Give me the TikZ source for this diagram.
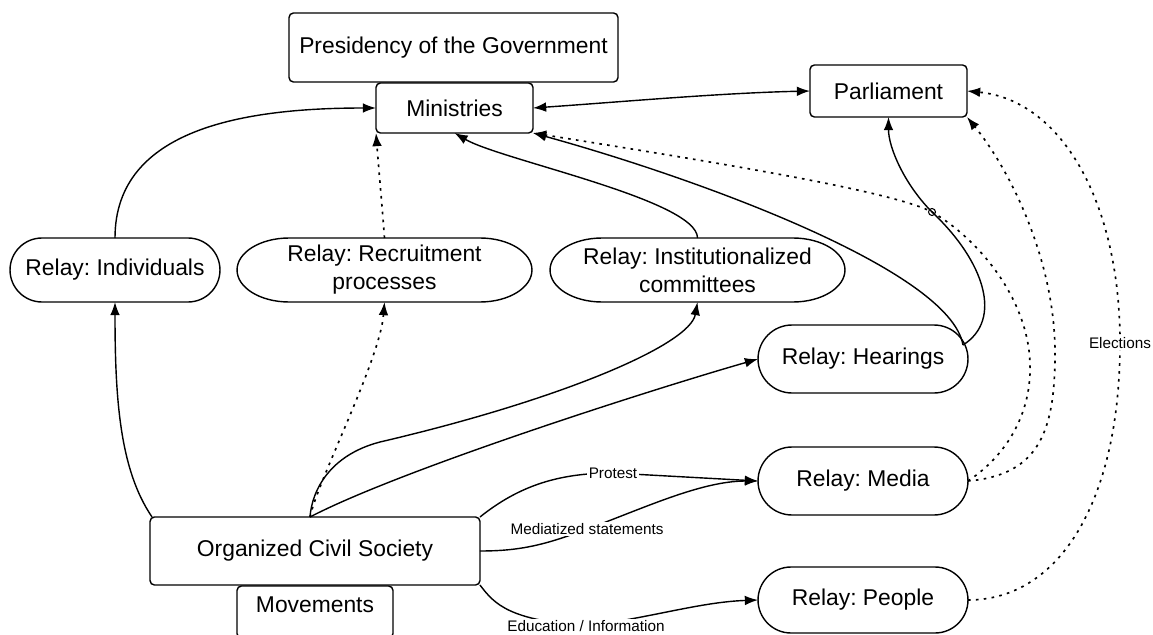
\documentclass[tikz,border=0pt]{standalone}
\usepackage{fontspec}
\setmainfont{Liberation Sans}
\usetikzlibrary{arrows.meta,shapes.misc}
\frenchspacing
\begin{document}
\begin{tikzpicture}[x=0.02cm,y=-0.02cm,
  ln/.style={line width=0.8pt},
  box/.style={draw, ln, rounded corners=2.5pt, inner sep=0pt, outer sep=0pt, align=center, font=\fontsize{13}{16}\selectfont},
  stad/.style={draw, ln, rounded rectangle, inner sep=0pt, outer sep=0pt, align=center, font=\fontsize{13}{16}\selectfont, minimum width=4.2cm},
  oval/.style={inner sep=0pt, outer sep=0pt, align=center, font=\fontsize{13}{16}\selectfont, minimum width=5.9cm, minimum height=1.28cm},
  arr/.style={ln, -{Latex[length=7.5pt,width=5.5pt]}},
  darr/.style={line width=0.95pt, dash pattern=on 1.5pt off 3pt, -{Latex[length=7.5pt,width=5.5pt]}},
  lbl/.style={fill=white, inner sep=1pt, font=\fontsize{8.7}{10}\selectfont}
]
\useasboundingbox (0,0) rectangle (1153,635);
\clip (0,0) rectangle (1153,635);

% boxes
\node[box, minimum width=6.58cm, minimum height=1.38cm] (pres) at (453.5,47.5) {Presidency of the Government};
\node[box, fill=white, minimum width=3.14cm, minimum height=1.0cm] (min) at (454.5,108) {Ministries};
\node[box, minimum width=3.14cm, minimum height=1.04cm] (par) at (888.5,91) {Parliament};
\node[box, minimum width=6.6cm, minimum height=1.36cm] (ocs) at (315,551) {Organized Civil Society};
\node[box, minimum width=3.12cm, minimum height=1.04cm, text depth=0.3cm] (mov) at (315,612) {Movements};

% stadium relays
\node[stad, minimum height=1.28cm] (ind) at (115,270) {Relay: Individuals};
\node[stad, minimum height=1.36cm] (hea) at (863,359) {Relay: Hearings};
\node[stad, minimum height=1.36cm] (med) at (863,481) {Relay: Media};
\node[stad, minimum height=1.32cm] (peo) at (863,600) {Relay: People};

% elliptical-ended relays
\node[oval] (rec) at (384.5,270) {Relay: Recruitment\\processes};
\node[oval] (ins) at (697.5,270) {Relay: Institutionalized\\committees};
\foreach \n in {rec,ins}{
  \draw[ln] ([xshift=1.04cm]\n.north west) -- ([xshift=-1.04cm]\n.north east)
    arc[start angle=90,end angle=-90,x radius=1.04cm,y radius=0.64cm]
    -- ([xshift=1.04cm]\n.south west)
    arc[start angle=270,end angle=90,x radius=1.04cm,y radius=0.64cm] -- cycle;
}

% waypoints
\coordinate (hs) at ([shift={(-5,-14)}]hea.east);
\coordinate (hop) at (932,212);
\coordinate (top) at ([shift={(-5,0)}]ocs.north);

% Ministries <-> Parliament
\draw[ln, {Latex[length=7.5pt,width=5.5pt]}-{Latex[length=7.5pt,width=5.5pt]}]
  (min.east) .. controls (620,102) and (720,93) .. (par.west);

% Individuals -> Ministries
\draw[arr] (ind.north) .. controls +(0,-110) and +(-130,0) .. (min.west);
% Recruitment -> Ministries (dotted)
\draw[darr] (rec.north) .. controls +(-3,-40) and +(3,40) .. (min.south west);
% Institutionalized -> Ministries
\draw[arr] (ins.north) .. controls +(0,-38) and +(46,27) .. (min.south);
% Hearings -> Ministries
\draw[arr] (hs) .. controls +(-13,-75) and +(163,45) .. (min.south east);
% Hearings -> Parliament
\draw[arr] (hs) .. controls +(40,-25) and +(53,50) .. (hop) .. controls +(-27,-27) and +(0,31) .. (par.south);
% Media -> Ministries (dotted)
\draw[darr] (med.east) .. controls +(32,-21) and +(2,57) .. (1030,363) .. controls +(-2,-63) and +(48,28) .. (hop) .. controls +(-42,-22) and +(167,27) .. (min.south east);
% Media -> Parliament (dotted)
\draw[darr] (med.east) .. controls +(72,-6) and +(0,77) .. (1055,353) .. controls +(0,-93) and +(43,53) .. (par.south east);
% People -> Parliament (Elections)
\draw[darr] (peo.east) .. controls +(92,0) and +(0,157) .. (1120,343) node[lbl] {Elections} .. controls +(0,-143) and +(93,9) .. (par.east);
% hop mark
\draw[line width=0.6pt] (hop) circle[radius=0.07cm];

% OCS -> Individuals
\draw[arr] ([shift={(2,0)}]ocs.north west) .. controls +(-32,-47) and +(0,98) .. (ind.south);
% OCS -> Recruitment (dotted)
\draw[darr] (top) .. controls +(8,-37) and +(-4.5,58) .. (rec.south);
% OCS -> Institutionalized
\draw[arr] (top) .. controls +(2,-27) and +(-50,13) .. (380,442) .. controls +(180,-42) and +(-7.5,43) .. (ins.south);
% OCS -> Hearings
\draw[arr] (top) .. controls +(90,-47) and +(-108,31) .. (hea.west);

% OCS -> Media: Protest
\draw[arr] (ocs.north east) .. controls +(40,-32) and +(-53,0) .. (613,473) node[lbl] {Protest} -- (med.west);
% OCS -> Media: Mediatized statements
\draw[arr] (ocs.east) .. controls +(40,0) and +(-42,16) .. (587,529) node[lbl] {Mediatized statements} .. controls +(53,-19) and +(-58,0) .. (med.west);
% OCS -> People: Education / Information
\draw[arr] (ocs.south east) .. controls +(15,20) and +(-76,-6) .. (586,626) node[lbl] {Education / Information} .. controls +(64,-8) and +(-58,2) .. (peo.west);
\end{tikzpicture}
\end{document}
